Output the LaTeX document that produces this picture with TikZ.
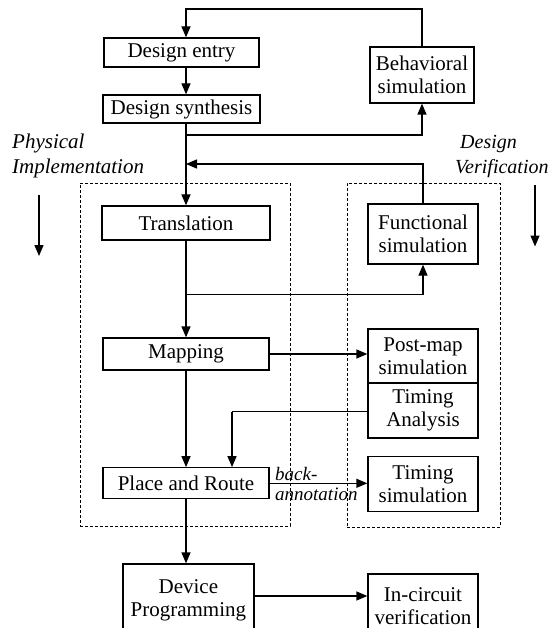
\documentclass[tikz,border=0pt]{standalone}
\usepackage{fontspec}
\setmainfont{Liberation Serif}
\usetikzlibrary{arrows.meta}
\begin{document}
\begin{tikzpicture}[x=1pt,y=-1pt,
  box/.style={draw, line width=1.3pt, inner sep=0pt, align=center,
    font=\fontsize{21}{23}\selectfont},
  dashbox/.style={draw, line width=0.9pt, dash pattern=on 3pt off 2pt, inner sep=0pt},
  link/.style={line width=1.3pt},
  arr/.style={link, -{Triangle[length=11pt,width=9pt]}},
  side/.style={font=\fontsize{21}{24}\selectfont\itshape, inner sep=0pt, anchor=base west},
  note/.style={font=\fontsize{19}{20}\selectfont\itshape, inner sep=0pt, anchor=base west}]

\clip (0,0) rectangle (553,628);

% dashed groups
\node[dashbox, minimum width=210, minimum height=343] (impl) at (185,354.5) {};
\node[dashbox, minimum width=153, minimum height=344] (verif) at (423.5,355) {};

% flow boxes
\node[box, minimum width=155, minimum height=29] (entry) at (181.5,52.5) {Design entry};
\node[box, minimum width=157, minimum height=28] (synth) at (181.5,109) {Design synthesis};
\node[box, minimum width=104, minimum height=56] (behav) at (422,75) {Behavioral\\simulation};
\node[box, minimum width=168, minimum height=34] (trans) at (186,223) {Translation};
\node[box, minimum width=110, minimum height=60] (func) at (423,234) {Functional\\simulation};
\node[box, minimum width=166, minimum height=32] (map) at (186,354) {Mapping};
\node[box, minimum width=110, minimum height=54] (post) at (423,356) {Post-map\\simulation};
\node[box, minimum width=110, minimum height=55] (ta) at (423,410.5) {Timing\\Analysis};
\node[box, minimum width=166, minimum height=31] (par) at (186,483.3) {Place and Route};
\node[box, minimum width=110, minimum height=55] (tsim) at (423,484) {Timing\\simulation};
\node[box, minimum width=131, minimum height=72] (dev) at (188.4,600) {Device\\Programming};
\node[box, minimum width=110, minimum height=64] (icv) at (423,606) {In-circuit\\verification};

% side labels
\node[side] (phys1) at (12,149) {Physical};
\node[side] (phys2) at (12,173.5) {Implementation};
\node[side, font=\fontsize{20}{24}\selectfont\itshape] (dver1) at (460,149) {Design};
\node[side, font=\fontsize{20}{24}\selectfont\itshape] (dver2) at (455,173.5) {Verification};
\node[note] (ba1) at (275,480) {back-};
\node[note] (ba2) at (275,500) {annotation};

% direction arrows
\coordinate (pa1) at (39,195);
\coordinate (pa2) at (39,256);
\draw[arr] (pa1) -- (pa2);
\coordinate (va1) at (535,185);
\coordinate (va2) at (535,246.5);
\draw[arr] (va1) -- (va2);

% connectors
\coordinate (top) at (186,9);
\draw[arr] (behav.north) |- (top) -- (top |- entry.north);
\draw[arr] (entry.south -| top) -- (synth.north -| top);
\coordinate (br1) at (186,135);
\draw[link] (synth.south -| br1) -- (br1);
\draw[arr] (br1) -| (behav.south);
\draw[arr] (br1) -- (trans.north);
\coordinate (fb) at (186,164);
\draw[arr] (func.north) |- (fb);
\coordinate (br2) at (186,294.5);
\draw[link] (trans.south) -- (br2);
\draw[arr] (br2) -| (func.south);
\draw[arr] (br2) -- (map.north);
\draw[arr] (map.south) -- (par.north);
\draw[arr] (map.east) -- (post.west |- map.east);
\coordinate (tc) at (232,411.7);
\draw[link] (ta.west |- tc) -- (tc);
\draw[arr] (tc) -- (tc |- par.north);
\draw[arr] (par.east) -- (tsim.west |- par.east);
\draw[arr] (par.south) -- (par.south |- dev.north);
\coordinate (dl) at (0,596);
\draw[arr] (dev.east |- dl) -- (icv.west |- dl);
\end{tikzpicture}
\end{document}
